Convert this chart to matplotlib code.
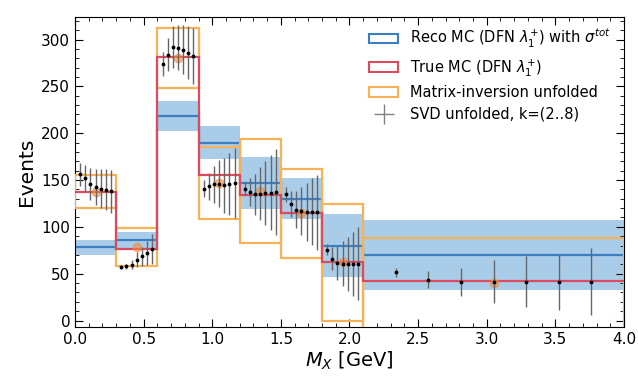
import numpy as np
import matplotlib
matplotlib.use("Agg")
import matplotlib.pyplot as plt
from matplotlib.patches import Rectangle, Patch
from matplotlib.lines import Line2D
from matplotlib.ticker import MultipleLocator

# bin edges in M_X [GeV]
edges = [0.0, 0.3, 0.6, 0.9, 1.2, 1.5, 1.8, 2.1, 4.0]

# Reco MC with total uncertainty band
reco = [78, 86, 218, 190, 147, 130, 80, 70]
reco_err = [8, 9, 16, 18, 28, 22, 34, 37]

# True MC
true_mc = [137, 76, 281, 155, 134, 115, 62, 42]

# Matrix-inversion unfolded (centre and error)
mi_val = [137.7, 78.5, 280, 146.5, 138.3, 114.5, 62, 40]
mi_err = [17.3, 20, 32, 38.5, 55.7, 47.5, 62, 48.6]

# SVD unfolded, k = 2..8 (one row per bin)
svd_val = [
    [156, 152.5, 146, 142.5, 140.7, 139.6, 138.2],
    [57, 57.7, 59.8, 64.9, 68.4, 71.9, 76.2],
    [274, 284, 292, 291, 289, 286, 282],
    [140.7, 143.2, 145.4, 146.1, 144.3, 145.4, 146.7],
    [140.7, 137.1, 134.7, 135.4, 136, 136.5, 137.1],
    [134.7, 124, 118.3, 116.8, 116.1, 116.1, 115.8],
    [75.5, 66, 61.6, 60.6, 60.6, 60.6, 60.6],
    [51.5, 43.5, 41.5, 41.5, 41.5, 41.5, 41.5],
]
svd_err = [
    [12, 14, 17, 19, 21, 22, 23],
    [2, 3, 5, 8, 10, 13, 16],
    [13, 18, 22, 24, 26, 28, 30],
    [9, 14, 20, 25, 29, 33, 37],
    [7, 15, 22, 28, 34, 40, 46],
    [8, 14, 20, 26, 31, 36, 40],
    [6, 12, 18, 24, 29, 34, 39],
    [5, 9, 15, 23, 27, 30, 36],
]

blue = '#3c7fc0'
band = '#a9cde9'
red = '#dd4a5f'
orange = '#f7b258'
dot_orange = '#f08c3c'

fig = plt.figure(figsize=(6.38, 3.79), dpi=100)
ax = fig.add_axes([0.1176, 0.137, 0.8604, 0.818])

edges = np.array(edges)
lo, hi = edges[:-1], edges[1:]
centers = 0.5 * (lo + hi)

# Reco band + line
for i in range(len(reco)):
    ax.fill_between([lo[i], hi[i]], reco[i] - reco_err[i], reco[i] + reco_err[i],
                    color=band, lw=0, zorder=1)
ax.stairs(reco, edges, baseline=None, color=blue, lw=1.6, zorder=2)

# Matrix inversion boxes
for i in range(len(mi_val)):
    ax.add_patch(Rectangle((lo[i], mi_val[i] - mi_err[i]), hi[i] - lo[i], 2 * mi_err[i],
                           fill=False, edgecolor=orange, lw=1.6, zorder=3))

# True MC
ax.stairs(true_mc, edges, baseline=None, color=red, lw=1.6, zorder=4)

# orange centre markers
ax.plot(centers, mi_val, 'o', color=dot_orange, ms=6, alpha=0.6, zorder=5)

# SVD points
for i in range(len(svd_val)):
    w = hi[i] - lo[i]
    xs = lo[i] + w * np.arange(1, 8) / 8
    ax.errorbar(xs, svd_val[i], yerr=svd_err[i], fmt='.', color='black', ms=3.5,
                ecolor='#666666', elinewidth=1, capsize=0, zorder=6)

ax.set_xlim(0, 4)
ax.set_ylim(-7, 324)
ax.xaxis.set_major_locator(MultipleLocator(0.5))
ax.xaxis.set_minor_locator(MultipleLocator(0.1))
ax.yaxis.set_major_locator(MultipleLocator(50))
ax.yaxis.set_minor_locator(MultipleLocator(10))
ax.tick_params(which='both', direction='in', top=True, right=True, labelsize=11)
ax.tick_params(which='major', length=6)
ax.tick_params(which='minor', length=3)
ax.set_xlabel(r'$M_X$ [GeV]', fontsize=14, labelpad=2)
ax.set_ylabel('Events', fontsize=14.5)

handles = [
    Patch(facecolor='white', edgecolor=blue, lw=1.5),
    Patch(facecolor='white', edgecolor=red, lw=1.5),
    Patch(facecolor='white', edgecolor=orange, lw=1.5),
    Line2D([], [], marker='+', color='gray', ls='none', ms=14, mew=1),
]
labels = [
    r'Reco MC (DFN $\lambda_1^{+}$) with $\sigma^{tot}$',
    r'True MC (DFN $\lambda_1^{+}$)',
    'Matrix-inversion unfolded',
    'SVD unfolded, k=(2..8)',
]
ax.legend(handles, labels, loc='upper right', frameon=False, fontsize=10.5,
          labelspacing=0.45, handlelength=2.0, handleheight=0.6,
          bbox_to_anchor=(1.0, 1.01))

fig.savefig('out.png', dpi=100)
